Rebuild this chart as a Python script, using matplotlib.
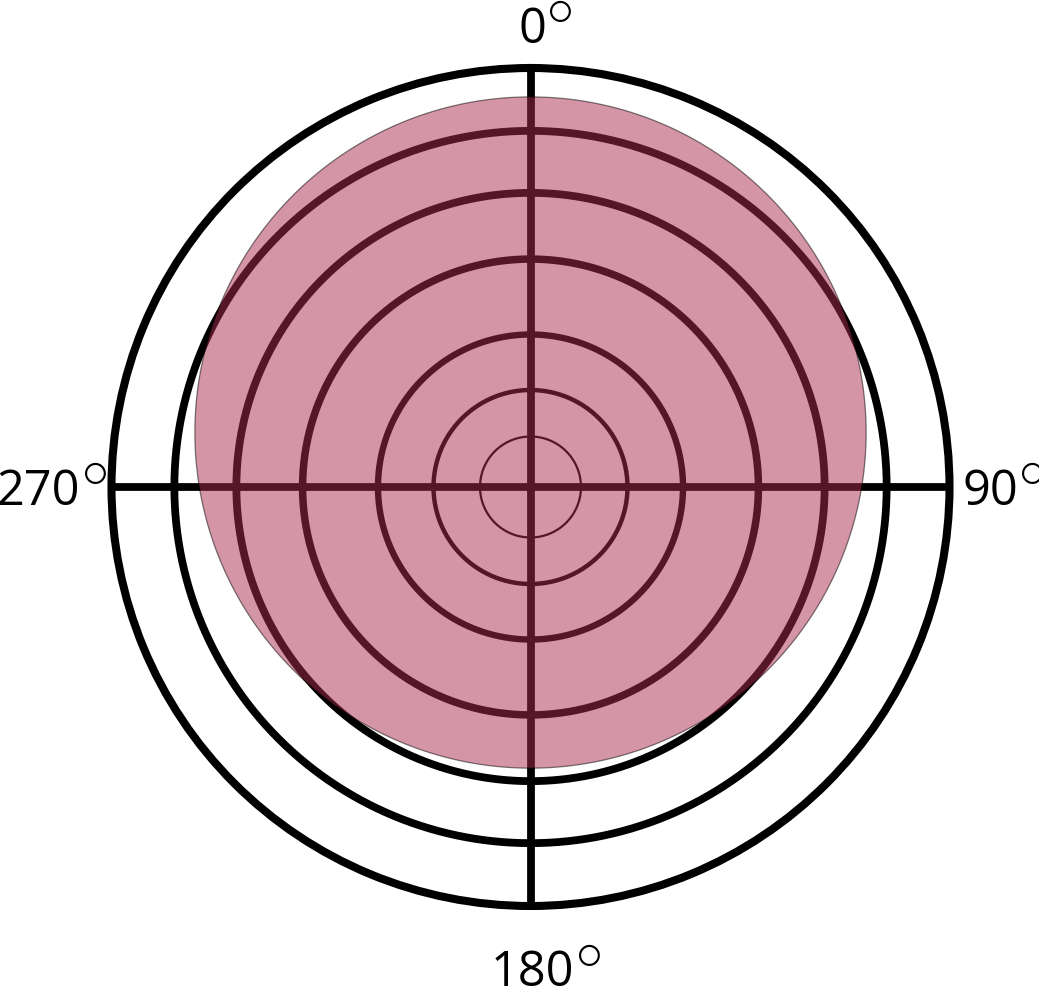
import numpy as np
import matplotlib
matplotlib.use('Agg')
import matplotlib.pyplot as plt

# ---- data -------------------------------------------------------------
ring_radii = [0.1205, 0.2315, 0.364, 0.544, 0.702, 0.850]
spoke_angles_deg = [0, 90, 180, 270]
tick_labels = ['0', '90', '180', '270']
disk_center_r = 0.130
disk_center_theta_deg = 0.0
disk_radius = 0.801
r_max = 1.0

# ---- style ------------------------------------------------------------
ring_linewidths = [1.6, 3.2, 4.6, 5.4, 5.6, 5.6]
spoke_linewidth = 5.6
spine_linewidth = 5.8
disk_color = '#AB2D4F'
label_offsets_px = [(1.5, 25), (40.5, -18), (2, -80), (-73, -18)]

W, H, DPI = 1039, 986, 100
fig = plt.figure(figsize=(W / DPI, H / DPI), dpi=DPI)
cx, cy, rad = 530.5, 487.0, 419.0
ax = fig.add_axes([(cx - rad) / W, (H - cy - rad) / H, 2 * rad / W, 2 * rad / H],
                  projection='polar')
ax.set_theta_zero_location('N')
ax.set_theta_direction(-1)
ax.set_ylim(0, r_max)
ax.set_xticks([])
ax.set_yticks([])
ax.grid(False)
ax.spines['polar'].set_linewidth(spine_linewidth)
ax.spines['polar'].set_color('black')

# rings
full = np.linspace(0, 2 * np.pi, 721)
for r, lw in zip(ring_radii, ring_linewidths):
    ax.plot(full, np.full_like(full, r), color='black', lw=lw, zorder=2,
            solid_capstyle='butt')

# spokes
for a in spoke_angles_deg:
    t = np.deg2rad(a)
    ax.plot([t, t], [0, r_max], color='black', lw=spoke_linewidth, zorder=2,
            solid_capstyle='butt')

# shaded disk (offset circle)
phi = np.linspace(0, 2 * np.pi, 1441)
t0 = np.deg2rad(disk_center_theta_deg)
x = disk_center_r * np.cos(t0) + disk_radius * np.cos(phi)
y = disk_center_r * np.sin(t0) + disk_radius * np.sin(phi)
theta_b = np.unwrap(np.arctan2(y, x))
r_b = np.hypot(x, y)
ax.fill(theta_b, r_b, facecolor=disk_color, alpha=0.5, edgecolor='black',
        linewidth=0.9, zorder=3)

# angle labels
for a, lab, (dx, dy) in zip(spoke_angles_deg, tick_labels, label_offsets_px):
    t = ax.annotate(lab, xy=(np.deg2rad(a), r_max), xycoords='data',
                    xytext=(dx, dy), textcoords='offset pixels',
                    ha='center', va='baseline', fontsize=35,
                    family='Open Sans', annotation_clip=False)
    ax.annotate(r'$\circ$', xy=(1, 1), xycoords=t, xytext=(13.5, -3),
                textcoords='offset pixels', ha='center', va='center',
                fontsize=39, math_fontfamily='cm', annotation_clip=False)

fig.savefig('out.png', dpi=DPI)
